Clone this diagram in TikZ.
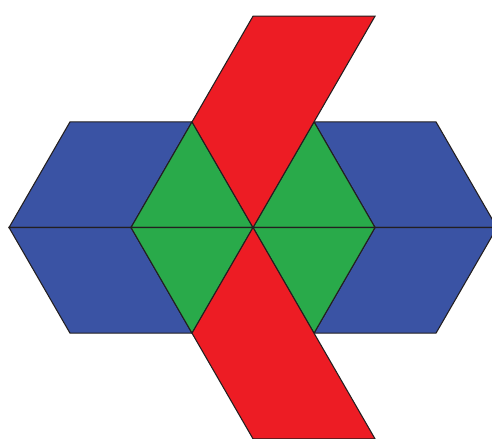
\documentclass[tikz,border=0pt]{standalone}
\usepackage{xcolor}
\usepackage{tikz}
\definecolor{tileblue}{RGB}{58, 83, 164}
\definecolor{tilegreen}{RGB}{41, 170, 74}
\definecolor{tilered}{RGB}{237, 28, 36}
\definecolor{edgegray}{RGB}{35, 31, 32}
\begin{document}
\begin{tikzpicture}[
    x=2cm, y=2cm,
    tile/.style={draw=edgegray, line width=0.5pt, line join=miter},
    bluetile/.style={tile, fill=tileblue},
    greentile/.style={tile, fill=tilegreen},
    redtile/.style={tile, fill=tilered}
]
\pgfmathsetmacro{\h}{sqrt(3)/2}
\clip (-2.074,-1.726) rectangle (1.959,1.865);
% corner points
\coordinate (o)  at (0,0);
\coordinate (w2) at (-2,0);
\coordinate (w1) at (-1,0);
\coordinate (e1) at (1,0);
\coordinate (e2) at (2,0);
% blue rhombi
\foreach \s in {1,-1} {
  \draw[bluetile] (w2) -- (-1.5,\s*\h) -- (-0.5,\s*\h) -- (w1) -- cycle;
  \draw[bluetile] (e1) -- (0.5,\s*\h) -- (1.5,\s*\h) -- (e2) -- cycle;
}
% green triangles
\foreach \s in {1,-1} {
  \draw[greentile] (w1) -- (-0.5,\s*\h) -- (o) -- cycle;
  \draw[greentile] (o) -- (0.5,\s*\h) -- (e1) -- cycle;
}
% red strips
\foreach \s in {1,-1} {
  \draw[redtile] (o) -- (-0.5,\s*\h) -- (0,2*\s*\h) -- (1,2*\s*\h) -- cycle;
}
\end{tikzpicture}
\end{document}
